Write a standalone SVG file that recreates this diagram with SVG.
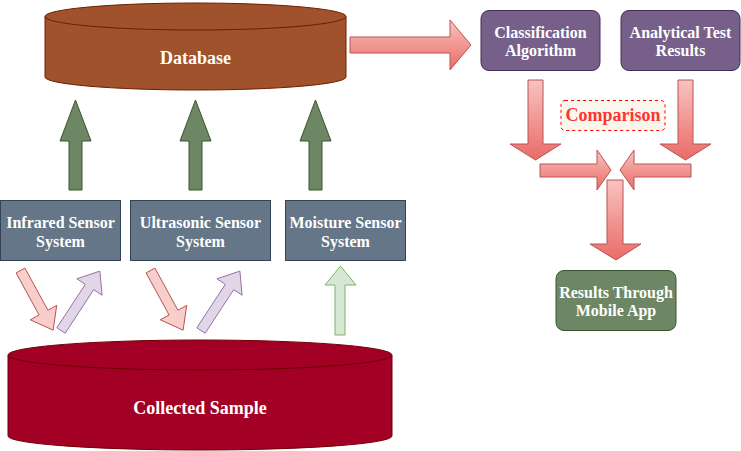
<svg xmlns="http://www.w3.org/2000/svg" width="741" height="451" viewBox="0 0 741 451">
<defs>
<linearGradient id="pinkGrad" x1="0" y1="0" x2="0" y2="1">
<stop offset="0" stop-color="#f8c3c1"/>
<stop offset="1" stop-color="#ea6b66"/>
</linearGradient>
<style>
.t{font-family:"Liberation Serif","Times New Roman",serif;font-weight:bold;fill:#ffffff;text-anchor:middle}
.t16{font-size:16px}
.t18{font-size:18px}
.pink{fill:url(#pinkGrad);stroke:#b85450;stroke-width:1}
.green{fill:#6d8764;stroke:#3a5431;stroke-width:1}
.lgreen{fill:#d5e8d4;stroke:#82b366;stroke-width:1}
.lpink{fill:#f8cecc;stroke:#b85450;stroke-width:1}
.lpurple{fill:#e1d5e7;stroke:#9673a6;stroke-width:1}
.sensor{fill:#647687;stroke:#314354;stroke-width:1}
.purple{fill:#76608a;stroke:#432d57;stroke-width:1}
</style>
</defs>
<rect width="741" height="451" fill="#ffffff"/>

<g id="database">
<path d="M45,16.5 A150.5,13.5 0 0 1 346,16.5 L346,77 A150.5,13 0 0 1 45,77 Z" fill="#a0522d" stroke="#6d1f00"/>
<path d="M45,16.5 A150.5,13.5 0 0 0 346,16.5" fill="none" stroke="#6d1f00"/>
<text class="t t18" x="195.5" y="64">Database</text>
</g>

<g id="collected-sample">
<path d="M8,355 A192,15 0 0 1 392,355 L392,436 A192,14 0 0 1 8,436 Z" fill="#a20025" stroke="#6f0000"/>
<path d="M8,355 A192,15 0 0 0 392,355" fill="none" stroke="#6f0000"/>
<text class="t t18" x="200" y="413.5">Collected Sample</text>
</g>

<g id="infrared-sensor">
<rect class="sensor" x="0.5" y="200.5" width="120" height="60"/>
<text class="t t16" x="60.5" y="227.5">Infrared Sensor</text>
<text class="t t16" x="60.5" y="246.5">System</text>
</g>

<g id="ultrasonic-sensor">
<rect class="sensor" x="130.5" y="200.5" width="140" height="60"/>
<text class="t t16" x="200.5" y="227.5">Ultrasonic Sensor</text>
<text class="t t16" x="200.5" y="246.5">System</text>
</g>

<g id="moisture-sensor">
<rect class="sensor" x="285.5" y="200.5" width="120" height="60"/>
<text class="t t16" x="345.5" y="227.5">Moisture Sensor</text>
<text class="t t16" x="345.5" y="246.5">System</text>
</g>

<g id="classification-algorithm">
<rect class="purple" x="481" y="10.5" width="119" height="60" rx="8"/>
<text class="t t16" x="540.5" y="37.5">Classification</text>
<text class="t t16" x="540.5" y="55.5">Algorithm</text>
</g>

<g id="analytical-test-results">
<rect class="purple" x="621" y="10.5" width="119" height="60" rx="8"/>
<text class="t t16" x="680.5" y="37.5">Analytical Test</text>
<text class="t t16" x="680.5" y="55.5">Results</text>
</g>

<g id="comparison">
<rect x="561" y="100.5" width="104" height="30" rx="4" fill="#f9f7ed" stroke="#ff0000" stroke-dasharray="3,3"/>
<text class="t18" x="613" y="121" font-family="Liberation Serif, Times New Roman, serif" font-weight="bold" fill="#ff3333" text-anchor="middle">Comparison</text>
</g>

<g id="results-mobile-app">
<rect class="green" x="556" y="270.5" width="120" height="60" rx="8"/>
<text class="t t16" x="616" y="297.5">Results Through</text>
<text class="t t16" x="616" y="315.5">Mobile App</text>
</g>

<g id="connectors">
<polygon class="pink" points="350,37 450,37 450,20 471,45 450,70 450,53 350,53"/>
<polygon class="pink" points="528,80 543,80 543,144 561,144 535.5,160 510,144 528,144"/>
<polygon class="pink" points="678,80 693,80 693,144 711,144 685.5,160 660,144 678,144"/>
<polygon class="pink" points="540,164 597,164 597,150 611,170 597,190 597,177 540,177"/>
<polygon class="pink" points="691,164 634,164 634,150 620,170 634,190 634,177 691,177"/>
<polygon class="pink" points="607,180 623,180 623,244 641,244 616,260 590,244 607,244"/>

<polygon class="green" points="69,190 82,190 82,141 91,141 75.5,100 60,141 69,141"/>
<polygon class="green" points="189,190 202,190 202,141 211,141 195.5,100 180,141 189,141"/>
<polygon class="green" points="309,190 322,190 322,141 331,141 315.5,100 300,141 309,141"/>

<polygon class="lgreen" points="335,335 345,335 345,285 356,285 340.5,266 325,285 335,285"/>

<polygon class="lpink" points="16.1,272.9 39.1,315 30.3,319.8 53.1,330.2 56.7,305.4 47.9,310.2 24.9,268.1"/>
<polygon class="lpink" transform="translate(130,0)" points="16.1,272.9 39.1,315 30.3,319.8 53.1,330.2 56.7,305.4 47.9,310.2 24.9,268.1"/>
<polygon class="lpurple" points="65.2,333.2 93.7,289.7 102.1,295.2 99.9,271.1 76.9,278.8 85.3,284.3 56.8,327.8"/>
<polygon class="lpurple" transform="translate(140,0)" points="65.2,333.2 93.7,289.7 102.1,295.2 99.9,271.1 76.9,278.8 85.3,284.3 56.8,327.8"/>
</g>
</svg>
